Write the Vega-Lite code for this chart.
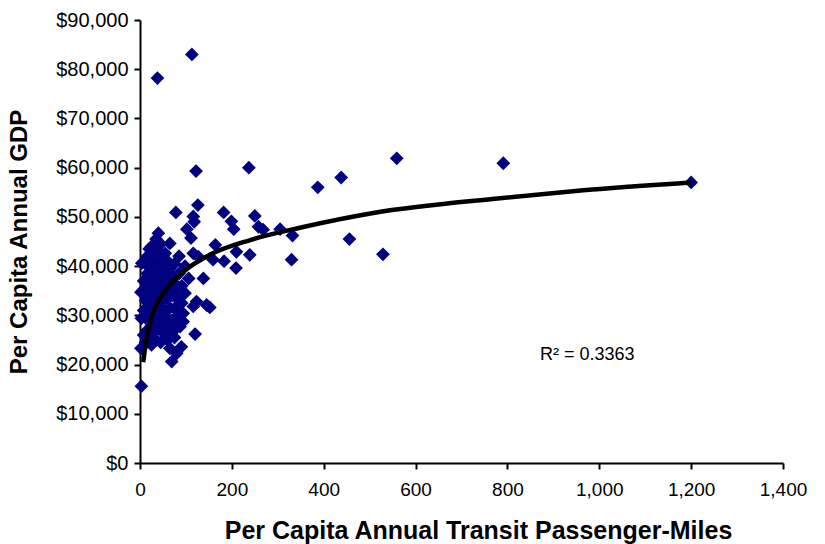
{
  "$schema": "https://vega.github.io/schema/vega-lite/v6.json",
  "width": 643,
  "height": 443,
  "autosize": {"type": "none"},
  "padding": {"left": 140, "top": 20, "right": 42, "bottom": 81},
  "background": "white",
  "config": {
    "view": {"stroke": null},
    "font": "Liberation Sans",
    "axis": {
      "grid": false,
      "domainColor": "black",
      "domainWidth": 2,
      "tickColor": "black",
      "tickWidth": 2,
      "tickSize": 6,
      "labelColor": "black",
      "labelFont": "Liberation Sans",
      "labelFontSize": 19,
      "labelFlush": false,
      "labelOverlap": false,
      "titleFont": "Liberation Sans",
      "titleFontSize": 24,
      "titleFontWeight": "bold",
      "titleColor": "black"
    }
  },
  "datasets": {
    "pts": [
      {"miles": 38, "gdp": 78200}, {"miles": 113, "gdp": 83000}, {"miles": 122, "gdp": 59300}, {"miles": 237, "gdp": 60000},
      {"miles": 387, "gdp": 56000}, {"miles": 438, "gdp": 58000}, {"miles": 559, "gdp": 61900}, {"miles": 791, "gdp": 60900},
      {"miles": 1200, "gdp": 57000}, {"miles": 456, "gdp": 45500}, {"miles": 529, "gdp": 42400}, {"miles": 332, "gdp": 46200},
      {"miles": 330, "gdp": 41300}, {"miles": 305, "gdp": 47500}, {"miles": 268, "gdp": 47400}, {"miles": 258, "gdp": 48000},
      {"miles": 250, "gdp": 50200}, {"miles": 204, "gdp": 47500}, {"miles": 199, "gdp": 49100}, {"miles": 182, "gdp": 50900},
      {"miles": 126, "gdp": 52400}, {"miles": 116, "gdp": 50100}, {"miles": 118, "gdp": 49000}, {"miles": 78, "gdp": 50900},
      {"miles": 102, "gdp": 47500}, {"miles": 111, "gdp": 45700}, {"miles": 40, "gdp": 46700}, {"miles": 164, "gdp": 44300},
      {"miles": 210, "gdp": 42900}, {"miles": 239, "gdp": 42300}, {"miles": 209, "gdp": 39600}, {"miles": 183, "gdp": 41000},
      {"miles": 159, "gdp": 41300}, {"miles": 138, "gdp": 37500}, {"miles": 145, "gdp": 32100}, {"miles": 152, "gdp": 31600},
      {"miles": 123, "gdp": 32800}, {"miles": 116, "gdp": 31800}, {"miles": 127, "gdp": 41900}, {"miles": 116, "gdp": 42600},
      {"miles": 120, "gdp": 26200}, {"miles": 69, "gdp": 20600}, {"miles": 3, "gdp": 15600}, {"miles": 2, "gdp": 23300},
      {"miles": 2, "gdp": 34700}, {"miles": 3, "gdp": 29400}, {"miles": 4, "gdp": 40600},
      {"miles": 94, "gdp": 30400}, {"miles": 87, "gdp": 27700}, {"miles": 94, "gdp": 28700},
      {"miles": 90, "gdp": 23600}, {"miles": 80, "gdp": 22300}, {"miles": 65, "gdp": 23300},
      {"miles": 8, "gdp": 26000}, {"miles": 8, "gdp": 31000}, {"miles": 8, "gdp": 37000},
      {"miles": 12, "gdp": 24500}, {"miles": 12, "gdp": 29500}, {"miles": 12, "gdp": 33000}, {"miles": 12, "gdp": 35500}, {"miles": 12, "gdp": 40500},
      {"miles": 16, "gdp": 27000}, {"miles": 16, "gdp": 30500}, {"miles": 16, "gdp": 36500}, {"miles": 16, "gdp": 38500}, {"miles": 16, "gdp": 42000},
      {"miles": 20, "gdp": 25500}, {"miles": 20, "gdp": 32000}, {"miles": 20, "gdp": 34500}, {"miles": 20, "gdp": 40000}, {"miles": 20, "gdp": 43500},
      {"miles": 25, "gdp": 24000}, {"miles": 25, "gdp": 28000}, {"miles": 25, "gdp": 33500}, {"miles": 25, "gdp": 37500}, {"miles": 25, "gdp": 41500}, {"miles": 25, "gdp": 44000},
      {"miles": 30, "gdp": 26500}, {"miles": 30, "gdp": 30000}, {"miles": 30, "gdp": 35500}, {"miles": 30, "gdp": 39000}, {"miles": 30, "gdp": 42500},
      {"miles": 35, "gdp": 25000}, {"miles": 35, "gdp": 29000}, {"miles": 35, "gdp": 32500}, {"miles": 35, "gdp": 36500}, {"miles": 35, "gdp": 40500}, {"miles": 35, "gdp": 45500},
      {"miles": 40, "gdp": 27500}, {"miles": 40, "gdp": 31500}, {"miles": 40, "gdp": 34500}, {"miles": 40, "gdp": 38000}, {"miles": 40, "gdp": 43000},
      {"miles": 45, "gdp": 24500}, {"miles": 45, "gdp": 30000}, {"miles": 45, "gdp": 36000}, {"miles": 45, "gdp": 40000}, {"miles": 45, "gdp": 44500},
      {"miles": 50, "gdp": 26500}, {"miles": 50, "gdp": 33000}, {"miles": 50, "gdp": 37500}, {"miles": 50, "gdp": 41500},
      {"miles": 55, "gdp": 28500}, {"miles": 55, "gdp": 31000}, {"miles": 55, "gdp": 35000}, {"miles": 55, "gdp": 39000}, {"miles": 55, "gdp": 42600},
      {"miles": 60, "gdp": 25000}, {"miles": 60, "gdp": 29400}, {"miles": 60, "gdp": 33500}, {"miles": 60, "gdp": 37000}, {"miles": 60, "gdp": 41000},
      {"miles": 65, "gdp": 27000}, {"miles": 65, "gdp": 31500}, {"miles": 65, "gdp": 35500}, {"miles": 65, "gdp": 39500}, {"miles": 65, "gdp": 44600},
      {"miles": 70, "gdp": 29000}, {"miles": 70, "gdp": 34000}, {"miles": 70, "gdp": 38000},
      {"miles": 75, "gdp": 25500}, {"miles": 75, "gdp": 31400}, {"miles": 75, "gdp": 36500}, {"miles": 75, "gdp": 40500},
      {"miles": 80, "gdp": 27500}, {"miles": 80, "gdp": 33500}, {"miles": 80, "gdp": 35500},
      {"miles": 85, "gdp": 30000}, {"miles": 85, "gdp": 38500}, {"miles": 85, "gdp": 42000},
      {"miles": 91, "gdp": 32500}, {"miles": 91, "gdp": 36000},
      {"miles": 98, "gdp": 34500}, {"miles": 98, "gdp": 40000},
      {"miles": 106, "gdp": 37500}
    ],
    "trend": [
      {"miles": 7, "gdp": 20500}, {"miles": 15, "gdp": 25900}, {"miles": 30, "gdp": 30900}, {"miles": 51, "gdp": 34500},
      {"miles": 102, "gdp": 39400}, {"miles": 152, "gdp": 42300}, {"miles": 240, "gdp": 45300}, {"miles": 348, "gdp": 47800},
      {"miles": 508, "gdp": 50800}, {"miles": 784, "gdp": 53800}, {"miles": 965, "gdp": 55400}, {"miles": 1200, "gdp": 57000}
    ],
    "note": [{"label": "R² = 0.3363", "miles": 871, "gdp": 22000}]
  },
  "layer": [
    {
      "data": {"name": "pts"},
      "mark": {"type": "point", "shape": "diamond", "filled": true, "size": 190, "color": "#000080", "opacity": 1},
      "encoding": {
        "x": {
          "field": "miles", "type": "quantitative",
          "scale": {"domain": [0, 1400], "nice": false, "zero": true},
          "axis": {"values": [0, 200, 400, 600, 800, 1000, 1200, 1400], "format": ",.0f", "title": "Per Capita Annual Transit Passenger-Miles", "titleFontSize": 25, "labelPadding": 11, "titlePadding": 19, "titleX": 338}
        },
        "y": {
          "field": "gdp", "type": "quantitative",
          "scale": {"domain": [0, 90000], "nice": false},
          "axis": {"values": [0, 10000, 20000, 30000, 40000, 50000, 60000, 70000, 80000, 90000], "format": "$,.0f", "title": "Per Capita Annual GDP", "labelFontSize": 20, "labelPadding": 6, "titlePadding": 24}
        }
      }
    },
    {
      "data": {"name": "trend"},
      "mark": {"type": "line", "color": "black", "strokeWidth": 4.5, "interpolate": "monotone"},
      "encoding": {
        "x": {"field": "miles", "type": "quantitative"},
        "y": {"field": "gdp", "type": "quantitative"}
      }
    },
    {
      "data": {"name": "note"},
      "mark": {"type": "text", "align": "left", "baseline": "middle", "fontSize": 18, "font": "Liberation Sans", "color": "black"},
      "encoding": {
        "x": {"field": "miles", "type": "quantitative"},
        "y": {"field": "gdp", "type": "quantitative"},
        "text": {"field": "label"}
      }
    }
  ]
}
